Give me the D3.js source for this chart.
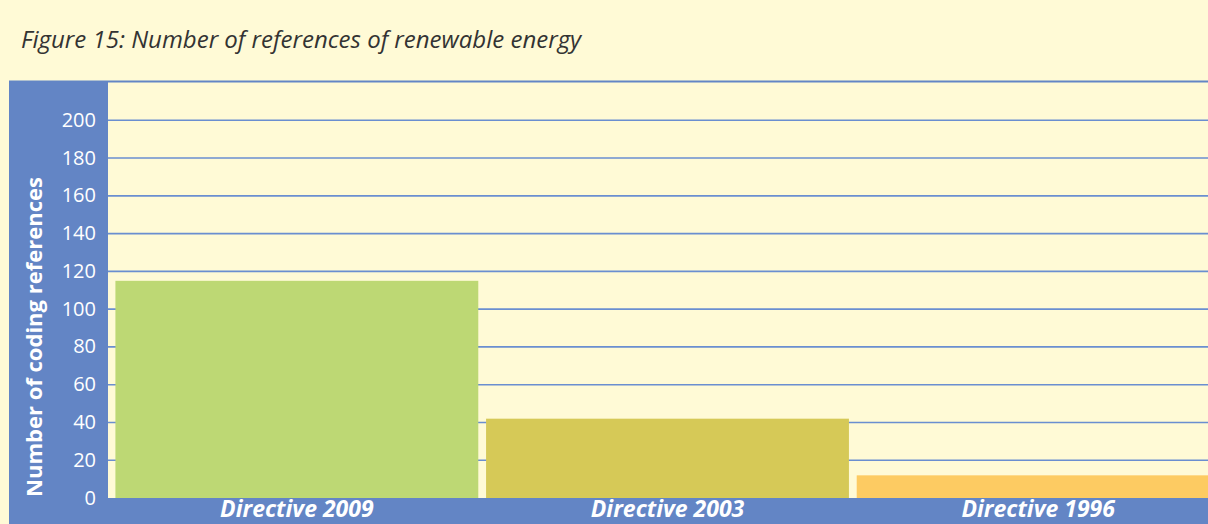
<!DOCTYPE html>
<html>
<head>
<meta charset="utf-8">
<script src="https://cdn.jsdelivr.net/npm/d3@7"></script>
<style>
  html, body { margin: 0; padding: 0; background: #fffad6; }
  svg { display: block; }
</style>
</head>
<body>
<svg id="vis" width="1208" height="524"></svg>
<script>
// chart data
const categories = ['Directive 2009', 'Directive 2003', 'Directive 1996'];
const values = [115, 42, 12];
const barColors = ['#bdd874', '#d6c957', '#fdcb62'];
const yTicks = [0, 20, 40, 60, 80, 100, 120, 140, 160, 180, 200];

const W = 1208, H = 524;
const blue = '#6385c5';
const plot = { left: 108, top: 82, bottom: 498 };

const svg = d3.select('#vis');

svg.append('rect')
    .attr('width', W).attr('height', H)
    .attr('fill', '#fffad6');

svg.append('text')
    .attr('x', 21)
    .attr('y', 48)
    .attr('font-family', 'Open Sans')
    .attr('font-style', 'italic')
    .attr('font-size', '24px')
    .attr('fill', '#333')
    .text('Figure 15: Number of references of renewable energy');

// blue frame: top line, left panel, bottom band
svg.append('rect')
    .attr('x', 9).attr('y', plot.top - 1.5)
    .attr('width', W - 9).attr('height', 2)
    .attr('fill', blue);

svg.append('rect')
    .attr('x', 9).attr('y', plot.top)
    .attr('width', plot.left - 9).attr('height', H - plot.top)
    .attr('fill', blue);

svg.append('rect')
    .attr('x', 9).attr('y', plot.bottom)
    .attr('width', W - 9).attr('height', H - plot.bottom)
    .attr('fill', blue);

var xScale = d3.scaleBand()
    .domain(categories)
    .range([plot.left, 1227])
    .paddingInner(0.021)
    .paddingOuter(0.02);

var yScale = d3.scaleLinear()
    .domain([0, 200])
    .range([plot.bottom, 120.3]);

// gridlines
svg.append('g')
    .selectAll('line')
    .data(yTicks.filter(d => d > 0))
    .enter()
    .append('line')
    .attr('x1', plot.left)
    .attr('x2', W)
    .attr('y1', d => yScale(d))
    .attr('y2', d => yScale(d))
    .attr('stroke', '#6a8ed0')
    .attr('stroke-width', 1.6);

svg.append('g')
    .selectAll('rect')
    .data(values)
    .enter()
    .append('rect')
    .attr('x', (d, i) => xScale(categories[i]))
    .attr('y', d => yScale(d))
    .attr('width', xScale.bandwidth())
    .attr('height', d => plot.bottom - yScale(d))
    .attr('fill', (d, i) => barColors[i]);

// y axis labels
var yAxis = svg.append('g')
    .attr('transform', 'translate(' + 96 + ',0)')
    .call(d3.axisLeft(yScale).tickValues(yTicks).tickSize(0).tickPadding(0));
yAxis.select('.domain').remove();
yAxis.selectAll('text')
    .attr('fill', '#fff')
    .attr('font-family', 'Open Sans')
    .attr('font-size', '20px')
    .attr('dy', '0.3em');

// x axis labels
var xAxis = svg.append('g')
    .attr('transform', 'translate(0, ' + plot.bottom + ')')
    .call(d3.axisBottom(xScale).tickSize(0).tickPadding(0));
xAxis.select('.domain').remove();
xAxis.selectAll('text')
    .attr('fill', '#fff')
    .attr('font-family', 'Open Sans')
    .attr('font-size', '23px')
    .attr('font-weight', 'bold')
    .attr('font-style', 'italic')
    .attr('dy', '0.82em');

svg.append('text')
    .attr('transform', 'translate(42, 337) rotate(-90)')
    .attr('text-anchor', 'middle')
    .attr('font-family', 'Open Sans')
    .attr('font-size', '22px')
    .attr('font-weight', 'bold')
    .attr('fill', '#fff')
    .text('Number of coding references');
</script>
</body>
</html>
